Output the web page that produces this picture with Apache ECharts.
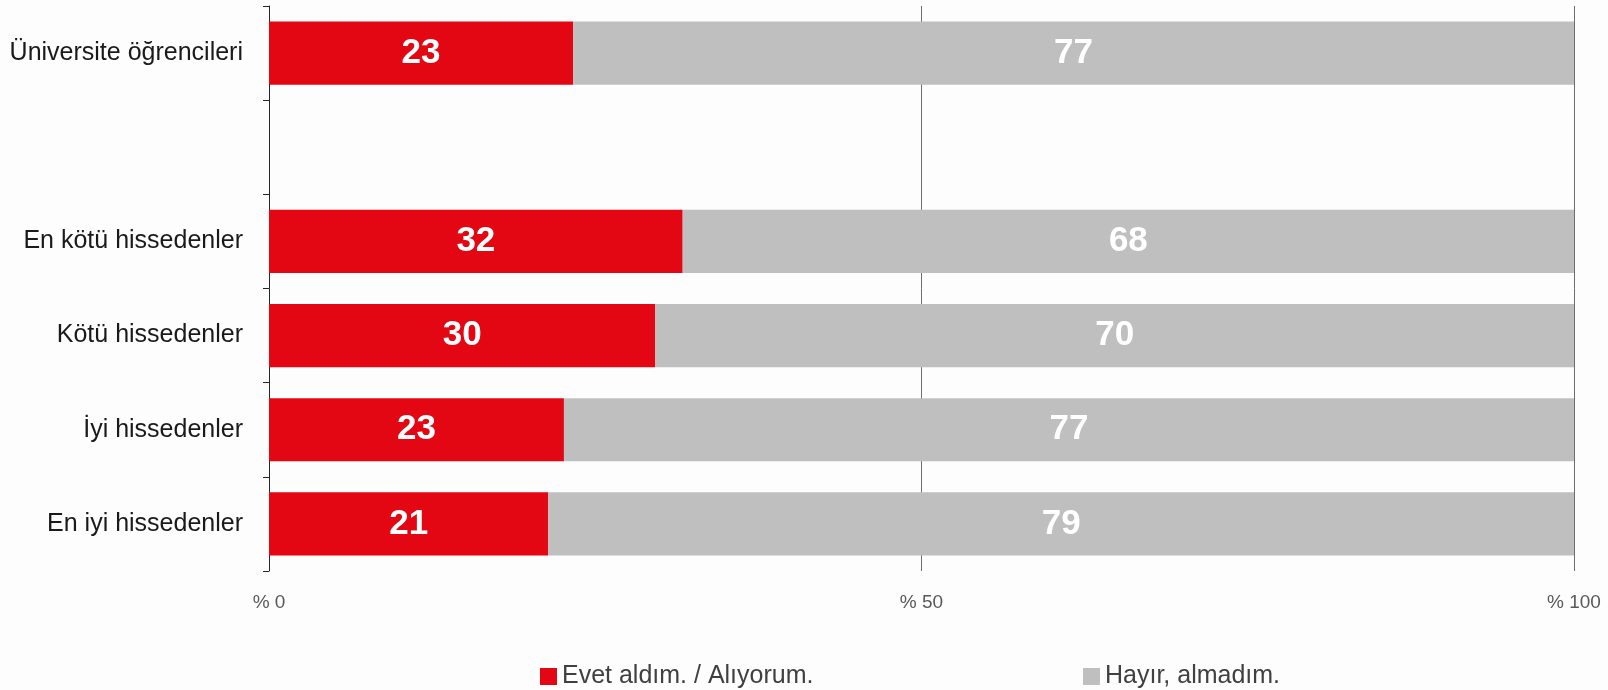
<!DOCTYPE html>
<html>
<head>
<meta charset="utf-8">
<script src="https://cdn.jsdelivr.net/npm/echarts@6/dist/echarts.min.js"></script>
<style>
html,body{margin:0;padding:0;background:#fdfdfd;}
#c{width:1608px;height:690px;}
</style>
</head>
<body>
<div id="c"></div>
<script>
const categories = ["Üniversite öğrencileri", "", "En kötü hissedenler", "Kötü hissedenler", "İyi hissedenler", "En iyi hissedenler"];
const seriesNames = ["Evet aldım. / Alıyorum.", "Hayır, almadım."];
const yesValues = [23.3, null, 31.7, 29.6, 22.6, 21.4];
const noValues = [76.7, null, 68.3, 70.4, 77.4, 78.6];
const xTickLabels = {0: "% 0", 50: "% 50", 100: "% 100"};

const chart = echarts.init(document.getElementById('c'));
const labelStyle = {
  show: true,
  position: 'inside',
  color: '#ffffff',
  fontFamily: 'Liberation Sans',
  fontWeight: 'bold',
  fontSize: 35,
  formatter: p => Math.round(p.value)
};
const legendText = {fontFamily: 'Liberation Sans', fontSize: 25, color: '#404040'};
chart.setOption({
  backgroundColor: '#fdfdfd',
  animation: false,
  grid: {left: 269, right: 34, top: 6, bottom: 119, containLabel: false},
  legend: [
    {data: [seriesNames[0]], left: 540, top: 664, itemWidth: 17, itemHeight: 17, itemGap: 8, icon: 'rect',
     textStyle: legendText, padding: 0},
    {data: [seriesNames[1]], left: 1083, top: 664, itemWidth: 17, itemHeight: 17, icon: 'rect',
     textStyle: legendText, padding: 0}
  ],
  xAxis: {
    type: 'value', min: 0, max: 100, interval: 50,
    axisLine: {show: false},
    axisTick: {show: false},
    splitLine: {show: true, lineStyle: {color: '#6e6e6e', width: 1}},
    axisLabel: {
      formatter: v => xTickLabels[v], margin: 22,
      fontFamily: 'Liberation Sans', fontSize: 19, color: '#595959'
    }
  },
  yAxis: {
    type: 'category', inverse: true, data: categories,
    axisLine: {show: true, lineStyle: {color: '#262626', width: 1}},
    axisTick: {show: true, length: 6, lineStyle: {color: '#262626'}},
    axisLabel: {margin: 26, fontFamily: 'Liberation Sans', fontSize: 25, color: '#1a1a1a'}
  },
  series: [
    {name: seriesNames[0], type: 'bar', stack: 's', data: yesValues, barCategoryGap: '33%',
     itemStyle: {color: '#e30613'}, label: labelStyle, z: 3},
    {name: seriesNames[1], type: 'bar', stack: 's', data: noValues, barCategoryGap: '33%',
     itemStyle: {color: '#bfbfbf'}, label: labelStyle, z: 3}
  ]
});
</script>
</body>
</html>
